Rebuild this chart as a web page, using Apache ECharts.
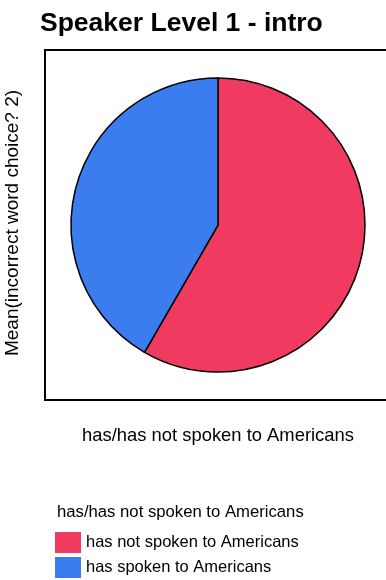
<!DOCTYPE html>
<html>
<head>
<meta charset="utf-8">
<script src="https://cdn.jsdelivr.net/npm/echarts@6/dist/echarts.min.js"></script>
<style>html,body{margin:0;padding:0;background:#fff;}#c{width:386px;height:580px;}</style>
</head>
<body>
<div id="c"></div>
<script>
const titleText = 'Speaker Level 1 - intro';
const xLabel = 'has/has not spoken to Americans';
const yLabel = 'Mean(incorrect word choice? 2)';
const legendTitle = 'has/has not spoken to Americans';
const categories = ['has not spoken to Americans', 'has spoken to Americans'];
const values = [1.40, 1.00];
const colors = ['#F03A5F', '#3B7DEE'];

const chart = echarts.init(document.getElementById('c'));
const font = '"Liberation Sans", Arial, sans-serif';
chart.setOption({
  animation: false,
  backgroundColor: '#fff',
  title: {
    text: titleText, left: 40, top: 10, padding: 0,
    textStyle: {fontFamily: font, fontSize: 26.5, fontWeight: 'bold', color: '#000'}
  },
  legend: {
    orient: 'vertical', left: 55, top: 532, padding: 0,
    itemWidth: 26, itemHeight: 21, itemGap: 4, icon: 'rect',
    itemStyle: {borderWidth: 0},
    textStyle: {fontFamily: font, fontSize: 16.5, color: '#000'},
    data: categories
  },
  graphic: [
    {type: 'rect', shape: {x: 45, y: 50, width: 400, height: 350}, style: {fill: 'none', stroke: '#000', lineWidth: 2}, z: 0},
    {type: 'text', x: 13, y: 223, rotation: Math.PI / 2, style: {text: yLabel, font: '19px ' + font, fill: '#000', align: 'center', verticalAlign: 'middle'}},
    {type: 'text', x: 218, y: 436, style: {text: xLabel, font: '18.4px ' + font, fill: '#000', align: 'center', verticalAlign: 'middle'}},
    {type: 'text', x: 57, y: 512, style: {text: legendTitle, font: '16.7px ' + font, fill: '#000', align: 'left', verticalAlign: 'middle'}}
  ],
  series: [{
    type: 'pie',
    center: [218, 225],
    radius: 147,
    startAngle: 90,
    clockwise: true,
    label: {show: false},
    labelLine: {show: false},
    emphasis: {disabled: true},
    itemStyle: {borderColor: '#000', borderWidth: 1.5},
    data: categories.map((c, i) => ({name: c, value: values[i], itemStyle: {color: colors[i]}}))
  }]
});
</script>
</body>
</html>
